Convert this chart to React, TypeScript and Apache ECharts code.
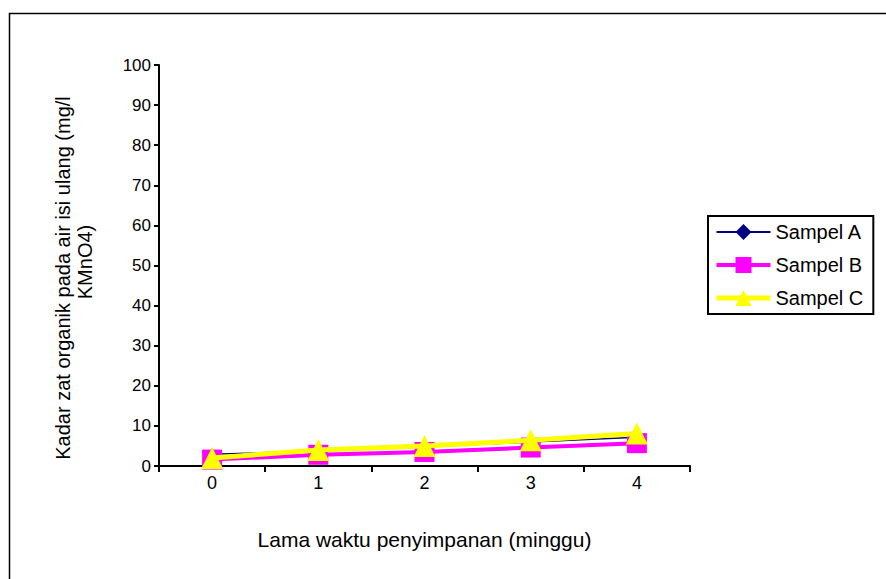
import React, { useEffect, useRef } from "react";
import * as echarts from "echarts";

const categories = ["0", "1", "2", "3", "4"];
const sampelA = [2.9, 3.8, 4.8, 6.0, 7.2];
const sampelB = [1.6, 2.8, 3.5, 4.6, 5.7];
const sampelC = [2.0, 4.0, 5.0, 6.4, 8.1];
const yTicks = { min: 0, max: 100, interval: 10 };

const FONT = "'Liberation Sans', Arial, sans-serif";

export default function App() {
  const ref = useRef<HTMLDivElement>(null);
  useEffect(() => {
    const chart = echarts.init(ref.current!, undefined, { renderer: "svg" });
    chart.setOption({
      animation: false,
      backgroundColor: "#ffffff",
      textStyle: { fontFamily: FONT },
      grid: { left: 159, top: 65, right: 196, bottom: 113, containLabel: false },
      graphic: [
        {
          type: "rect",
          shape: { x: 9.5, y: 13.5, width: 900, height: 600 },
          style: { fill: "none", stroke: "#000", lineWidth: 1.5 },
          silent: true,
        },
        {
          type: "text",
          x: 63,
          y: 278,
          rotation: Math.PI / 2,
          style: {
            text: "Kadar zat organik pada air isi ulang (mg/l",
            fontFamily: FONT,
            fontSize: 20,
            fill: "#000",
            align: "center",
            verticalAlign: "middle",
          },
        },
        {
          type: "text",
          x: 85,
          y: 262,
          rotation: Math.PI / 2,
          style: {
            text: "KMnO4)",
            fontFamily: FONT,
            fontSize: 20,
            fill: "#000",
            align: "center",
            verticalAlign: "middle",
          },
        },
      ],
      legend: {
        orient: "vertical",
        left: 708,
        top: 216,
        padding: [6, 10, 6, 6],
        itemGap: 13,
        itemWidth: 54,
        itemHeight: 20,
        borderColor: "#000",
        borderWidth: 2,
        textStyle: { fontFamily: FONT, fontSize: 20, color: "#000" },
        data: [
          { name: "Sampel A", lineStyle: { width: 2, color: "#000080" } },
          { name: "Sampel B", lineStyle: { width: 4, color: "#ff00ff" } },
          { name: "Sampel C", lineStyle: { width: 5, color: "#ffff00" } },
        ],
      },
      xAxis: {
        type: "category",
        data: categories,
        boundaryGap: true,
        name: "Lama waktu penyimpanan (minggu)",
        nameLocation: "middle",
        nameGap: 63,
        nameTextStyle: { fontFamily: FONT, fontSize: 21, color: "#000" },
        axisLine: { lineStyle: { color: "#000", width: 2 } },
        axisTick: { show: true, length: 6, lineStyle: { color: "#000", width: 2 } },
        axisLabel: { fontFamily: FONT, fontSize: 18, color: "#000", margin: 8 },
        splitLine: { show: false },
      },
      yAxis: {
        type: "value",
        min: yTicks.min,
        max: yTicks.max,
        interval: yTicks.interval,
        axisLine: { show: true, lineStyle: { color: "#000", width: 2 } },
        axisTick: { show: true, length: 5, lineStyle: { color: "#000", width: 2 } },
        axisLabel: { fontFamily: FONT, fontSize: 17, color: "#000", margin: 8 },
        splitLine: { show: false },
      },
      series: [
        {
          name: "Sampel A",
          type: "line",
          data: sampelA,
          symbol: "diamond",
          symbolSize: 12,
          lineStyle: { color: "#000080", width: 1.5 },
          itemStyle: { color: "#000080" },
          z: 2,
        },
        {
          name: "Sampel B",
          type: "line",
          data: sampelB,
          symbol: "rect",
          symbolSize: 20,
          lineStyle: { color: "#ff00ff", width: 4 },
          itemStyle: { color: "#ff00ff" },
          z: 3,
        },
        {
          name: "Sampel C",
          type: "line",
          data: sampelC,
          symbol: "triangle",
          symbolSize: 22,
          lineStyle: { color: "#ffff00", width: 5 },
          itemStyle: { color: "#ffff00" },
          z: 4,
        },
      ],
    });
    return () => chart.dispose();
  }, []);
  return (
    <div
      ref={ref}
      style={{ position: "fixed", left: 0, top: 0, width: 886, height: 579 }}
    />
  );
}
